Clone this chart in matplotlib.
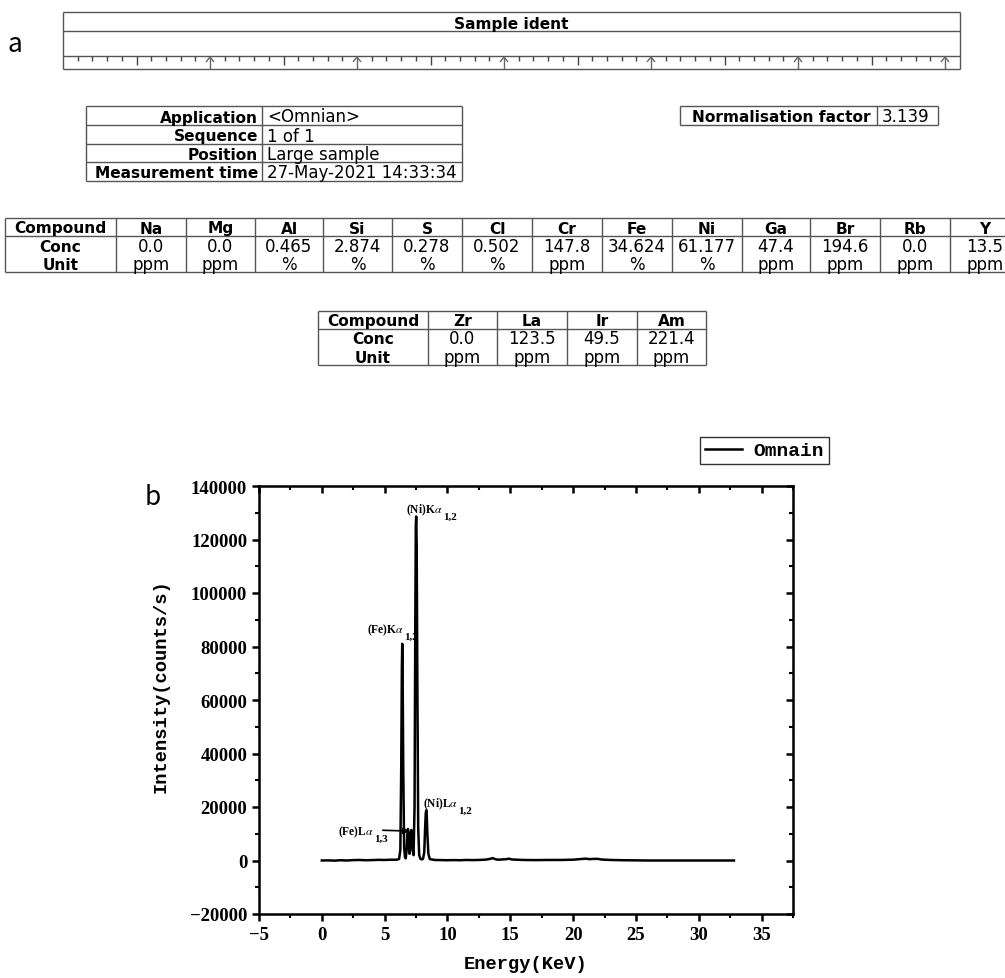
import matplotlib.pyplot as plt
from matplotlib.lines import Line2D

W, H = 1005, 979

# ---- header / tables data ----
ident_title = 'Sample ident'
app_labels = ['Application', 'Sequence', 'Position', 'Measurement time']
app_values = ['<Omnian>', '1 of 1', 'Large sample', '27-May-2021 14:33:34']
norm_label = 'Normalisation factor'
norm_value = '3.139'

compounds1 = ['Na', 'Mg', 'Al', 'Si', 'S', 'Cl', 'Cr', 'Fe', 'Ni', 'Ga', 'Br', 'Rb', 'Y']
conc1 = ['0.0', '0.0', '0.465', '2.874', '0.278', '0.502', '147.8', '34.624', '61.177',
         '47.4', '194.6', '0.0', '13.5']
unit1 = ['ppm', 'ppm', '%', '%', '%', '%', 'ppm', '%', '%', 'ppm', 'ppm', 'ppm', 'ppm']

compounds2 = ['Zr', 'La', 'Ir', 'Am']
conc2 = ['0.0', '123.5', '49.5', '221.4']
unit2 = ['ppm', 'ppm', 'ppm', 'ppm']

# ---- spectrum data ----
energy = [0.0, 0.5, 1.0, 1.5, 2.0, 2.5, 3.0, 3.5, 4.0, 4.5, 5.0, 5.5, 6.0, 6.15, 6.25,
          6.32, 6.37, 6.40, 6.43, 6.48, 6.55, 6.62, 6.68, 6.75, 6.81, 6.85, 6.89, 6.95,
          6.99, 7.04, 7.09, 7.12, 7.16, 7.22, 7.30, 7.38, 7.44, 7.48, 7.51, 7.55, 7.60,
          7.67, 7.75, 7.85, 7.95, 8.05, 8.15, 8.22, 8.27, 8.31, 8.35, 8.40, 8.48, 8.60,
          9.0, 9.5, 10.0, 10.5, 11.0, 11.5, 12.0, 12.5, 13.0, 13.4, 13.6, 13.8, 14.0,
          14.4, 14.7, 14.9, 15.1, 15.5, 16.0, 17.0, 18.0, 19.0, 20.0, 20.5, 21.0, 21.3,
          21.6, 22.0, 22.2, 22.5, 23.0, 24.0, 25.0, 26.0, 28.0, 30.0, 32.8]
intensity = [0, 50, -50, 100, 0, 150, 200, 100, 150, 250, 200, 300, 300, 600, 4000,
             35000, 72000, 81000, 72000, 35000, 5000, 1200, 800, 4000, 10000, 11800, 10500, 4000,
             2500, 6000, 10800, 11400, 9500, 4000, 2000, 20000, 90000, 125000, 128600, 118000, 70000,
             12000, 2000, 600, 400, 600, 3000, 12000, 17500, 18800, 17000, 10000, 2500, 500,
             200, 150, 100, 150, 100, 200, 150, 200, 300, 600, 900, 500, 300,
             400, 500, 700, 400, 300, 200, 150, 200, 200, 300, 500, 700, 500,
             600, 600, 400, 300, 200, 100, 50, 0, 0, 0, 0]

# (main text, subscript, x, y) of the peak labels
peak_labels = [(r'(Ni)K$\mathit{\alpha}$', '1,2', 6.67, 130100),
               (r'(Fe)K$\mathit{\alpha}$', '1,2', 3.57, 85200),
               (r'(Ni)L$\mathit{\alpha}$', '1,2', 8.02, 20200),
               (r'(Fe)L$\mathit{\alpha}$', '1,3', 1.27, 9700)]

plt.rcParams['mathtext.fontset'] = 'stix'
line_c = '#555555'

fig = plt.figure(figsize=(W / 100, H / 100), dpi=100)
bg = fig.add_axes([0, 0, 1, 1])
bg.set_xlim(0, W)
bg.set_ylim(H, 0)
bg.axis('off')


def seg(x0, y0, x1, y1, c=line_c, lw=1.0):
    bg.add_line(Line2D([x0, x1], [y0, y1], color=c, lw=lw, solid_capstyle='butt'))


def box(x0, y0, x1, y1):
    seg(x0, y0, x1, y0)
    seg(x0, y1, x1, y1)
    seg(x0, y0, x0, y1)
    seg(x1, y0, x1, y1)


def txt(x, y, s, ha='center', bold=False):
    bg.text(x, y, s, ha=ha, va='baseline', fontsize=11.1 if bold else 12,
            fontweight='bold' if bold else 'normal', family='DejaVu Sans', color='black')


# panel letters
bg.text(15, 45, 'a', fontsize=19, ha='center', va='center', family='Noto Sans CJK SC',
        fontweight='light')
bg.text(153, 498, 'b', fontsize=19, ha='center', va='center', family='Noto Sans CJK SC',
        fontweight='light')

# sample ident box with ruler
box(63, 13, 960, 70)
seg(63, 32, 960, 32)
seg(63, 57, 960, 57)
txt(511, 29, ident_title, bold=True)
step = 147.0 / 10
for k in range(1, 61):
    x = 63 + k * step
    if k % 10 == 0:
        seg(x, 58, x, 70, c='#666666')
        seg(x - 4, 63, x, 58, c='#666666')
        seg(x + 4, 63, x, 58, c='#666666')
    elif k % 5 == 0:
        seg(x, 57, x, 66, c='#444444')
    else:
        seg(x, 57, x, 62, c='#444444')

# application table
box(86, 107, 462, 182)
seg(262, 107, 262, 182)
rows = [107, 126, 145, 163, 182]
for y in rows[1:-1]:
    seg(86, y, 462, y)
for i in range(4):
    txt(258, rows[i + 1] - 3.5, app_labels[i], ha='right', bold=True)
    txt(267, rows[i + 1] - 3.5, app_values[i], ha='left')

# normalisation factor
box(680, 107, 938, 126)
seg(877, 107, 877, 126)
txt(871, 122.5, norm_label, ha='right', bold=True)
txt(882, 122.5, norm_value, ha='left')


def comp_table(edges, top, names, concs, units):
    bottom = top + 54
    right = min(edges[-1], W + 20)
    seg(edges[0], top, right, top)
    seg(edges[0], top + 18, right, top + 18)
    seg(edges[0], bottom, right, bottom)
    for x in edges:
        seg(x, top, x, bottom)
    cx0 = (edges[0] + edges[1]) / 2
    txt(cx0, top + 14.5, 'Compound', bold=True)
    txt(cx0, top + 32.5, 'Conc', bold=True)
    txt(cx0, top + 51, 'Unit', bold=True)
    for i in range(len(names)):
        cx = (edges[i + 1] + edges[i + 2]) / 2
        txt(cx, top + 14.5, names[i], bold=True)
        txt(cx, top + 32.5, concs[i])
        txt(cx, top + 51, units[i])


comp_table([5, 116, 186, 255, 323, 392, 462, 532, 602, 672, 742, 810, 880, 950, 1020],
           219, compounds1, conc1, unit1)
comp_table([318, 428, 497, 567, 637, 706], 312, compounds2, conc2, unit2)

# ---- spectrum panel ----
ax = fig.add_axes([259 / W, 1 - 915 / H, (793 - 259) / W, (915 - 487) / H])
ax.plot(energy, intensity, color='black', lw=1.8, label='Omnain')
ax.set_xlim(-5, 37.5)
ax.set_ylim(-20000, 140000)
ax.set_xticks(range(-5, 36, 5))
ax.set_yticks(range(-20000, 140001, 20000))
ax.set_xticks([x + 2.5 for x in range(-5, 36, 5)], minor=True)
ax.set_yticks([y + 10000 for y in range(-20000, 140000, 20000)], minor=True)
for sp in ax.spines.values():
    sp.set_linewidth(1.8)
tick_font = dict(family='Liberation Serif', weight='bold', size=13.5)
ax.tick_params(which='major', direction='out', length=5, width=1.8)
ax.tick_params(which='minor', direction='out', length=3, width=1.5)
for lab in ax.get_xticklabels() + ax.get_yticklabels():
    lab.set_fontproperties(tick_font)

top = ax.secondary_xaxis('top')
top.set_xticks(range(-5, 36, 5))
top.set_xticks([x + 2.5 for x in range(-5, 36, 5)], minor=True)
top.tick_params(which='major', direction='in', length=5, width=1.8, labeltop=False)
top.tick_params(which='minor', direction='in', length=3, width=1.5)
right = ax.secondary_yaxis('right')
right.set_yticks(range(-20000, 140001, 20000))
right.set_yticks([y + 10000 for y in range(-20000, 140000, 20000)], minor=True)
right.tick_params(which='major', direction='in', length=5, width=1.8, labelright=False)
right.tick_params(which='minor', direction='in', length=3, width=1.5)

label_font = dict(family='Liberation Mono', weight='bold', size=13.5)
ax.set_xlabel('Energy(KeV)', fontdict=label_font, labelpad=9)
ax.set_ylabel('Intensity(counts/s)', fontdict=label_font)
ax.yaxis.set_label_coords(-0.167, 0.535)

for main, sub, x, y in peak_labels:
    t = ax.annotate(main, (x, y), fontsize=8.3, family='Liberation Serif', fontweight='bold',
                    ha='left', va='baseline', zorder=5)
    ax.annotate(sub, xy=(1, y), xycoords=(t, 'data'), fontsize=8,
                family='Liberation Serif', fontweight='bold', ha='left', va='baseline',
                zorder=5, xytext=(0.5, -4.5), textcoords='offset points')

ax.annotate('', xy=(6.98, 11000), xytext=(4.85, 11300),
            arrowprops=dict(arrowstyle='-|>', lw=1.2, color='black', mutation_scale=9,
                            shrinkA=0, shrinkB=0))

leg = fig.legend(loc='upper left', bbox_to_anchor=(700 / W, 1 - 438 / H),
                 prop=dict(family='Liberation Mono', weight='bold', size=14),
                 fancybox=False, edgecolor='#333333', framealpha=1, handlelength=1.9,
                 borderpad=0.25, handletextpad=0.6, borderaxespad=0)
leg.get_frame().set_linewidth(1.0)

fig.savefig('out.png', dpi=100)
